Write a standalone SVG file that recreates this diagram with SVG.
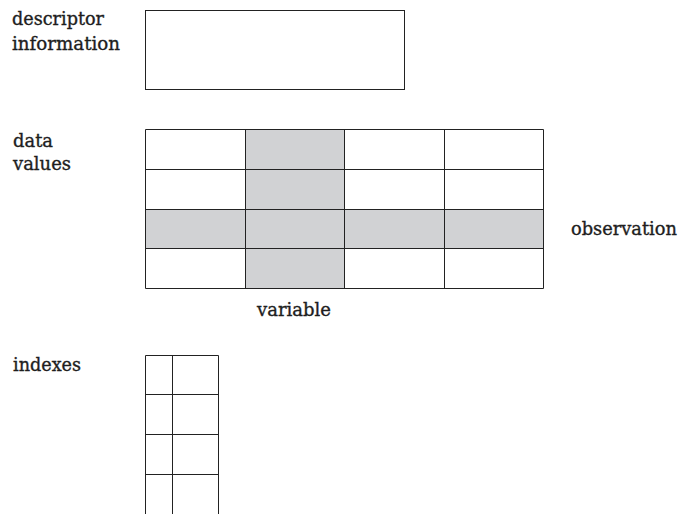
<svg xmlns="http://www.w3.org/2000/svg" width="679" height="514" viewBox="0 0 679 514">
<style>
  .lbl { font-family: "DejaVu Serif", "Liberation Serif", serif; font-size: 18px; fill: #1e1e1e; stroke: #1e1e1e; stroke-width: 0.35px; }
  .ln { stroke: #222; stroke-width: 1; fill: none; }
  .sh { fill: #d1d2d4; }
</style>
<rect width="679" height="514" fill="#fff"/>
<g id="descriptor">
  <text class="lbl" x="12" y="25" textLength="92" lengthAdjust="spacingAndGlyphs">descriptor</text>
  <text class="lbl" x="12" y="50" textLength="108" lengthAdjust="spacingAndGlyphs">information</text>
  <rect class="ln" x="145.5" y="10.5" width="259" height="79"/>
</g>
<g id="data-values">
  <text class="lbl" x="13" y="147" textLength="40" lengthAdjust="spacingAndGlyphs">data</text>
  <text class="lbl" x="13" y="170" textLength="58" lengthAdjust="spacingAndGlyphs">values</text>
  <rect class="sh" x="245.5" y="129.5" width="99" height="159"/>
  <rect class="sh" x="145.5" y="209.5" width="398" height="39"/>
  <path class="ln" d="M145.5 129.5H543.5V288.5H145.5Z M145.5 169.5H543.5 M145.5 209.5H543.5 M145.5 248.5H543.5 M245.5 129.5V288.5 M344.5 129.5V288.5 M444.5 129.5V288.5"/>
  <text class="lbl" x="571" y="235" textLength="106" lengthAdjust="spacingAndGlyphs">observation</text>
  <text class="lbl" x="257" y="316" textLength="74" lengthAdjust="spacingAndGlyphs">variable</text>
</g>
<g id="indexes">
  <text class="lbl" x="13" y="371" textLength="68" lengthAdjust="spacingAndGlyphs">indexes</text>
  <path class="ln" d="M145.5 514V355.5H218.5V514 M172.5 355.5V514 M145.5 394.5H218.5 M145.5 434.5H218.5 M145.5 474.5H218.5"/>
</g>
<g id="connectors"/>
</svg>
